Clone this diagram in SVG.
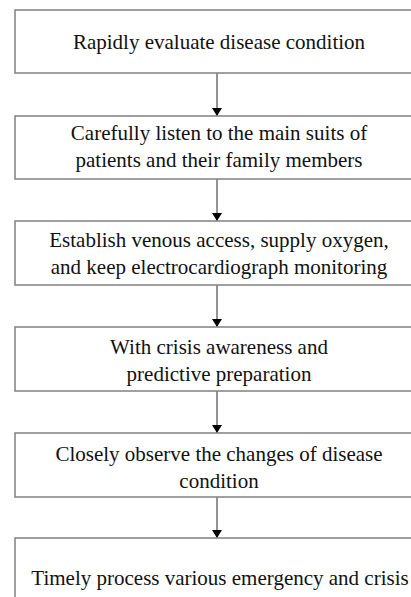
<svg xmlns="http://www.w3.org/2000/svg" width="411" height="597" viewBox="0 0 411 597">
<defs>
<style>
.box{fill:#fff;stroke:#808080;stroke-width:1.5}
.lbl{font-family:"Liberation Serif","Times New Roman",serif;font-size:21px;fill:#111;text-anchor:middle}
.conn{stroke:#707070;stroke-width:1.5;fill:none}
</style>
<marker id="ah" markerWidth="8" markerHeight="10" refX="8" refY="5" orient="auto" markerUnits="userSpaceOnUse" viewBox="0 0 8 10">
<path d="M0,0 L8,5 L0,10 Z" fill="#000"/>
</marker>
</defs>
<rect width="411" height="597" fill="#fff"/>
<g id="connectors">
<line class="conn" x1="217" y1="73" x2="217" y2="116" marker-end="url(#ah)"/>
<line class="conn" x1="217" y1="179" x2="217" y2="221" marker-end="url(#ah)"/>
<line class="conn" x1="217" y1="285" x2="217" y2="327" marker-end="url(#ah)"/>
<line class="conn" x1="217" y1="391" x2="217" y2="433" marker-end="url(#ah)"/>
<line class="conn" x1="217" y1="497" x2="217" y2="538" marker-end="url(#ah)"/>
</g>
<g id="n1">
<rect class="box" x="15" y="10" width="405" height="63"/>
<text class="lbl" x="219" y="48.5">Rapidly evaluate disease condition</text>
</g>
<g id="n2">
<rect class="box" x="15" y="116" width="405" height="63"/>
<text class="lbl" x="219" y="139.5">Carefully listen to the main suits of</text>
<text class="lbl" x="219" y="166.5">patients and their family members</text>
</g>
<g id="n3">
<rect class="box" x="15" y="221" width="405" height="64"/>
<text class="lbl" x="219" y="246.5">Establish venous access, supply oxygen,</text>
<text class="lbl" x="219" y="274">and keep electrocardiograph monitoring</text>
</g>
<g id="n4">
<rect class="box" x="15" y="327" width="405" height="64"/>
<text class="lbl" x="219" y="354">With crisis awareness and</text>
<text class="lbl" x="219" y="381">predictive preparation</text>
</g>
<g id="n5">
<rect class="box" x="15" y="433" width="405" height="64"/>
<text class="lbl" x="219" y="460.5">Closely observe the changes of disease</text>
<text class="lbl" x="219" y="487.5">condition</text>
</g>
<g id="n6">
<rect class="box" x="15" y="538" width="405" height="80"/>
<text class="lbl" x="220" y="585">Timely process various emergency and crisis</text>
</g>
</svg>
